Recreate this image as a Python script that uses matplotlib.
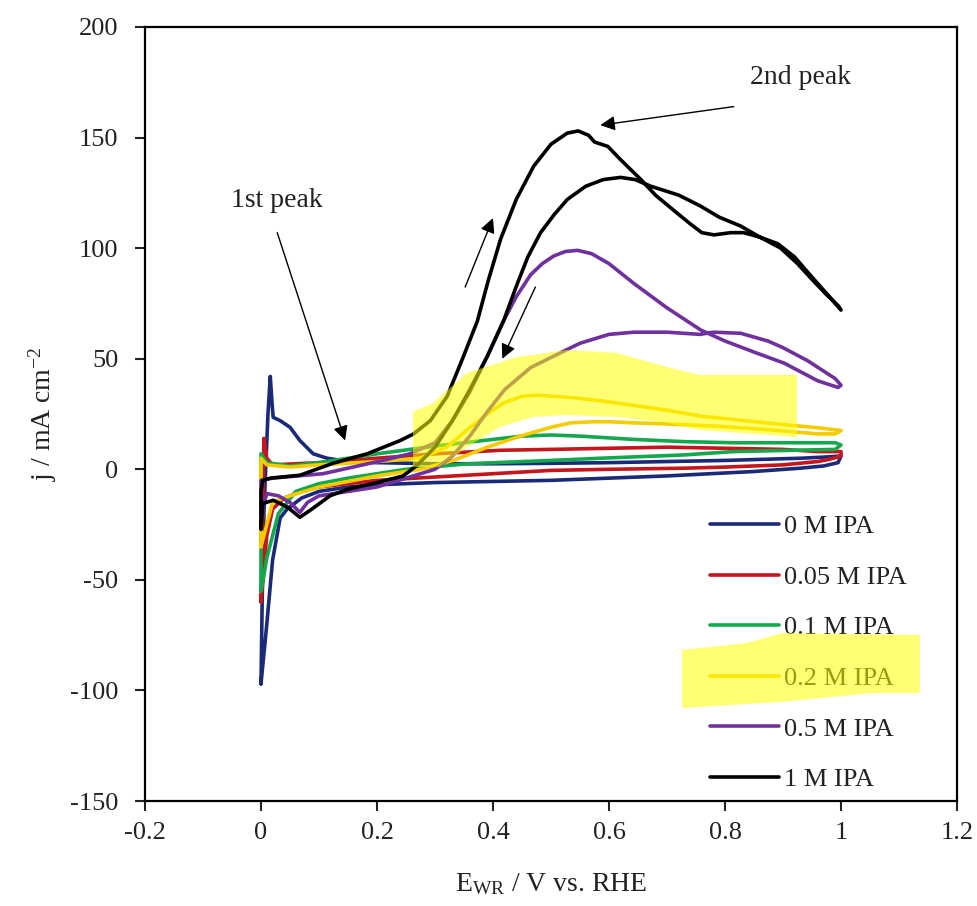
import matplotlib
matplotlib.use("Agg")
import matplotlib.pyplot as plt
from matplotlib.patches import Polygon

plt.rcParams['font.family'] = ['Liberation Serif', 'DejaVu Serif']
plt.rcParams['mathtext.fontset'] = 'custom'
plt.rcParams['mathtext.rm'] = 'Liberation Serif'
plt.rcParams['mathtext.it'] = 'Liberation Serif:italic'
plt.rcParams['axes.unicode_minus'] = False

# ---------------- data (scan path: forward then backward) ----------------
labels = ["0 M IPA", "0.05 M IPA", "0.1 M IPA", "0.2 M IPA", "0.5 M IPA", "1 M IPA"]
colors = ["#1a2a78", "#c4161c", "#14a84e", "#f5cc00", "#7030a0", "#000000"]

ipa0_x = [0.0, 0.002, 0.005, 0.008, 0.012, 0.016, 0.019, 0.021, 0.033, 0.05, 0.067, 0.09, 0.114, 0.15,
          0.2, 0.3, 0.4, 0.5, 0.6, 0.7, 0.8, 0.93, 0.97, 1.0,
          0.995, 0.97, 0.93, 0.85, 0.7, 0.6, 0.5, 0.4, 0.3, 0.2, 0.15, 0.1, 0.07, 0.045, 0.033, 0.02,
          0.01, 0.0]
ipa0_y = [-97, -60, -20, 0, 25, 42, 30, 23.5, 22, 19, 13, 7, 5, 3.5,
          3, 2.5, 2.5, 2.7, 3, 3.5, 4, 5, 5.5, 6,
          3, 1.5, 0.5, -1, -3, -4, -5, -5.5, -6, -7, -8, -10, -13, -18, -22, -41,
          -70, -97]

ipa005_x = [0.0, 0.003, 0.005, 0.01, 0.02, 0.1, 0.2, 0.3, 0.413, 0.5, 0.6, 0.7, 0.8, 0.9, 0.96, 1.0,
            1.0, 0.98, 0.96, 0.9, 0.8, 0.73, 0.6, 0.5, 0.4, 0.3, 0.2, 0.1, 0.07, 0.04, 0.02, 0.01,
            0.003, 0.0]
ipa005_y = [-60, -20, 14, 5, 2, 3, 5, 7, 8.6, 9, 9.5, 10, 9.5, 9, 8, 8,
            6, 4.5, 3.5, 2, 1, 0.5, 0, -0.5, -2, -3.5, -5, -8, -10, -13, -18, -30,
            -50, -60]

ipa01_x = [0.0, 0.0, 0.01, 0.05, 0.1, 0.2, 0.3, 0.383, 0.45, 0.5, 0.55, 0.643, 0.73, 0.815, 0.9, 0.99,
           1.0, 0.99, 0.9, 0.815, 0.73, 0.585, 0.5, 0.356, 0.25, 0.15, 0.1, 0.06, 0.03, 0.02, 0.01,
           0.005, 0.0]
ipa01_y = [-55, 7, 3, 1.5, 3, 7, 10.5, 13, 15, 15.5, 15, 13.5, 12.5, 12, 12, 12,
           11, 9, 8.5, 8, 6.5, 5, 4, 2.5, 0, -4, -6.5, -10, -20, -30, -40,
           -48, -55]

ipa02_x = [0.0, 0.0, 0.01, 0.05, 0.1, 0.2, 0.275, 0.32, 0.361, 0.39, 0.418, 0.45, 0.477, 0.534, 0.585,
           0.64, 0.7, 0.76, 0.815, 0.87, 0.93, 0.97, 1.0,
           0.99, 0.96, 0.87, 0.787, 0.7, 0.642, 0.6, 0.573, 0.534, 0.5, 0.447, 0.39, 0.332, 0.275,
           0.2, 0.1, 0.05, 0.02, 0.0]
ipa02_y = [-35, 5, 2, 1, 2, 3.5, 5, 10, 19, 25, 30, 33, 33.5, 32.5, 31,
           29, 26.7, 24, 22.5, 21, 19.5, 18.5, 17.5,
           16, 16, 18, 19.5, 20.5, 21, 21.5, 21.5, 21, 19, 15, 10, 4, 0,
           -3, -8, -12, -15, -35]

ipa05_x = [0.0, 0.0, 0.02, 0.107, 0.21, 0.257, 0.3, 0.33, 0.36, 0.39, 0.418, 0.44, 0.465, 0.485, 0.505,
           0.525, 0.546, 0.57, 0.6, 0.643, 0.7, 0.758, 0.8, 0.85, 0.902, 0.96, 0.995, 1.0,
           0.99, 0.943, 0.9, 0.874, 0.827, 0.78, 0.757, 0.7, 0.643, 0.6, 0.55, 0.511, 0.465, 0.42,
           0.39, 0.36, 0.33, 0.3, 0.25, 0.2, 0.15, 0.1, 0.08, 0.067, 0.05, 0.03, 0.01, 0.0]
ipa05_y = [-20, -5, -4, -2, 4, 7, 12, 22, 35, 51, 67, 78, 88, 93, 96.5,
           98.5, 99, 97.5, 93, 84, 73, 63, 58, 53, 48, 40, 37, 38,
           41, 49, 55, 58, 61.5, 62, 61, 62, 62, 61, 57, 52, 46, 36,
           26, 15, 6, 0, -4, -8, -10, -12, -15, -19.5, -15, -12, -11, -20]

ipa1_x = [0.0, 0.0, 0.003, 0.016, 0.067, 0.124, 0.183, 0.24, 0.263, 0.292, 0.321, 0.349, 0.373, 0.392,
          0.413, 0.44, 0.47, 0.5, 0.528, 0.547, 0.565, 0.575, 0.598, 0.62, 0.655, 0.68, 0.712, 0.74,
          0.76, 0.781, 0.81, 0.832, 0.86, 0.891, 0.92, 0.943, 0.97, 0.99, 1.0,
          0.995, 0.975, 0.953, 0.925, 0.896, 0.86, 0.827, 0.79, 0.758, 0.72, 0.672, 0.645, 0.62, 0.59,
          0.56, 0.528, 0.505, 0.482, 0.46, 0.442, 0.418, 0.39, 0.36, 0.33, 0.3, 0.27, 0.245, 0.2,
          0.15, 0.119, 0.085, 0.067, 0.045, 0.021, 0.003, 0.0]
ipa1_y = [-27, -10, -5, -4, -2.7, 2.7, 7, 13, 16, 22, 33, 51, 67, 85.5,
          104, 122, 137, 147, 152, 153, 151, 148, 146, 140, 131, 124, 117, 111,
          107, 106, 107, 107, 105, 102, 96, 89, 81, 75, 72,
          74, 79, 85, 93, 100, 105, 110, 114, 119, 124, 128, 131, 132, 131,
          128, 122, 115, 107, 96, 84, 67, 51, 36, 22, 10, 2, -3, -6,
          -9, -12, -18.5, -21.7, -17, -14, -15.5, -27]

series_x = [ipa0_x, ipa005_x, ipa01_x, ipa02_x, ipa05_x, ipa1_x]
series_y = [ipa0_y, ipa005_y, ipa01_y, ipa02_y, ipa05_y, ipa1_y]

x_ticks = [-0.2, 0, 0.2, 0.4, 0.6, 0.8, 1, 1.2]
x_tick_labels = ["-0.2", "0", "0.2", "0.4", "0.6", "0.8", "1", "1.2"]
y_ticks = [-150, -100, -50, 0, 50, 100, 150, 200]
y_tick_labels = ["-150", "-100", "-50", "0", "50", "100", "150", "200"]

# ---------------- figure ----------------
W, H = 978, 906
TXT = '#222222'
fig = plt.figure(figsize=(W / 100, H / 100), dpi=100)
ax = fig.add_axes([145 / W, 1 - 801 / H, (957 - 145) / W, (801 - 27) / H])

for xs, ys, c, lab in zip(series_x, series_y, colors, labels):
    ax.plot(xs, ys, color=c, lw=2.6, label=lab, solid_joinstyle='round', solid_capstyle='round')

ax.set_xlim(-0.2, 1.2)
ax.set_ylim(-150, 200)
ax.set_xticks(x_ticks)
ax.set_xticklabels(x_tick_labels)
ax.set_yticks(y_ticks)
ax.set_yticklabels(y_tick_labels)
ax.tick_params(direction='out', length=7, width=1.5, labelsize=19, colors=TXT)
ax.tick_params(axis='y', pad=12)
ax.tick_params(axis='x', pad=8)
for s in ax.spines.values():
    s.set_linewidth(1.6)

ax.set_xlabel(r"E$_{\mathrm{WR}}$ / V vs. RHE", fontsize=20, color=TXT, labelpad=20)
ax.set_ylabel(r"j / mA cm$^{\mathrm{-2}}$", fontsize=20, color=TXT, labelpad=8)

# annotations
arrowkw = dict(arrowstyle='-|>', color='black', lw=1.0, mutation_scale=22, shrinkA=0, shrinkB=0)
ax.text(0.028, 121.7, "1st peak", fontsize=20, ha='center', va='center', color=TXT)
ax.annotate("", xy=(0.145, 13), xytext=(0.028, 107), arrowprops=arrowkw)
ax.text(0.931, 177, "2nd peak", fontsize=20, ha='center', va='center', color=TXT)
ax.annotate("", xy=(0.585, 155.6), xytext=(0.815, 164), arrowprops=arrowkw)
ax.annotate("", xy=(0.40, 113.6), xytext=(0.352, 82.4), arrowprops=arrowkw)
ax.annotate("", xy=(0.416, 50), xytext=(0.473, 82.4), arrowprops=arrowkw)

leg = ax.legend(loc='upper left', bbox_to_anchor=(0.696, 0.370), frameon=False, fontsize=19,
                handlelength=2.6, handletextpad=0.2, labelspacing=1.03, borderpad=0, borderaxespad=0)
for t in leg.get_texts():
    t.set_color(TXT)

# yellow highlighter marks (pixel outlines)
hl1 = [(413, 412), (433, 403), (467, 373), (517, 357), (567, 350), (617, 353), (667, 367), (700, 375),
       (797, 375), (797, 437), (700, 430), (667, 423), (617, 417), (567, 415), (533, 417), (500, 427),
       (467, 447), (440, 467), (413, 467)]
hl2 = [(682, 650), (747, 643), (783, 633), (920, 635), (920, 693), (873, 693), (780, 702), (682, 708)]
for poly in (hl1, hl2):
    verts = [(px / W, 1 - py / H) for px, py in poly]
    fig.patches.append(Polygon(verts, closed=True, transform=fig.transFigure, facecolor='#ffff00',
                               edgecolor='none', alpha=0.55, zorder=10))

fig.savefig("out.png", dpi=100)
